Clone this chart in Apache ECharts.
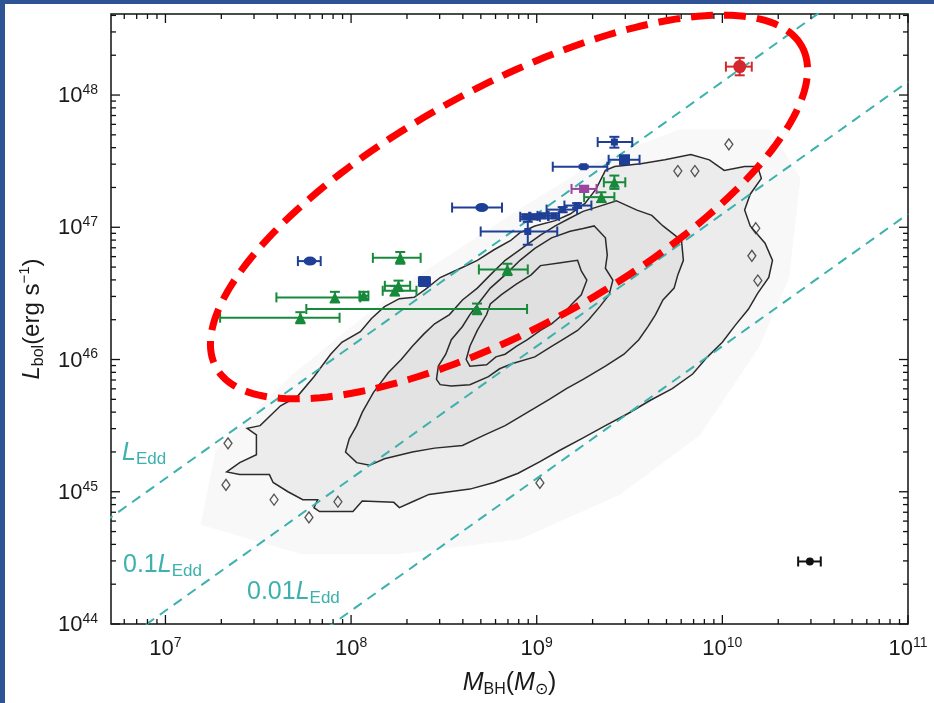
<!DOCTYPE html>
<html>
<head>
<meta charset="utf-8">
<title>Lbol vs MBH</title>
<script src="https://cdn.jsdelivr.net/npm/echarts@6/dist/echarts.min.js"></script>
<style>
  html, body { margin: 0; padding: 0; background: #fff; }
  #chart { width: 934px; height: 703px; }
</style>
</head>
<body>
<div id="chart"></div>
<script>
const FONT = '"Liberation Sans", Arial, Helvetica, sans-serif';
const TEAL = '#3cb1ad';
const FRAME = '#2e5495';

const xMin = 5.09e6, xMax = 1e11;
const yMin = 1e44, yMax = 4.1e48;

// rows: [M_BH, M_low, M_high, L_bol, L_low, L_high]
const blueSmall = [
  [2.62e9, 2.13e9, 3.27e9, 4.41e47, 4.00e47, 4.83e47],
  [1.79e9, 1.22e9, 2.40e9, 2.87e47, 2.80e47, 2.94e47],
  [8.95e8, 4.99e8, 1.29e9, 9.29e46, 7.38e46, 1.10e47],
  [8.69e8, 8.15e8, 9.25e8, 1.20e47, 1.15e47, 1.25e47],
  [9.71e8, 9.10e8, 1.04e9, 1.20e47, 1.15e47, 1.25e47],
  [1.08e9, 1.01e9, 1.15e9, 1.22e47, 1.17e47, 1.27e47],
  [1.24e9, 1.16e9, 1.32e9, 1.22e47, 1.17e47, 1.27e47],
  [1.38e9, 1.13e9, 1.65e9, 1.36e47, 1.30e47, 1.42e47],
  [1.65e9, 1.41e9, 1.97e9, 1.46e47, 1.40e47, 1.52e47]
];
const blueOval = [
  [5.06e8, 3.50e8, 6.50e8, 1.41e47, 1.41e47, 1.41e47],
  [6.01e7, 5.17e7, 6.86e7, 5.55e46, 5.55e46, 5.55e46]
];
const blueLarge = [
  [2.97e9, 2.44e9, 3.58e9, 3.24e47, 3.10e47, 3.39e47],
  [2.48e8, 2.32e8, 2.66e8, 3.89e46, 3.72e46, 4.07e46]
];
const greenTri = [
  [2.62e9, 2.30e9, 3.00e9, 2.19e47, 1.95e47, 2.46e47],
  [2.23e9, 1.80e9, 2.62e9, 1.69e47, 1.55e47, 1.84e47],
  [1.84e8, 1.31e8, 2.37e8, 5.87e46, 5.30e46, 6.50e46],
  [6.95e8, 4.88e8, 8.95e8, 4.80e46, 4.35e46, 5.30e46],
  [8.18e7, 3.96e7, 1.12e8, 2.95e46, 2.70e46, 3.25e46],
  [1.17e8, 1.11e8, 1.24e8, 3.04e46, 2.85e46, 3.25e46],
  [1.72e8, 1.48e8, 2.25e8, 3.31e46, 3.05e46, 3.60e46],
  [1.80e8, 1.52e8, 2.08e8, 3.61e46, 3.30e46, 3.95e46],
  [4.77e8, 5.74e7, 8.87e8, 2.41e46, 2.20e46, 2.65e46],
  [5.33e7, 1.97e7, 8.67e7, 2.07e46, 1.88e46, 2.28e46]
];
const magentaPt = [
  [1.80e9, 1.54e9, 2.10e9, 1.95e47, 1.85e47, 2.06e47]
];
const redPt = [
  [1.24e10, 1.045e10, 1.44e10, 1.64e48, 1.41e48, 1.91e48]
];
const blackPt = [
  [2.96e10, 2.56e10, 3.39e10, 2.97e44, 2.97e44, 2.97e44]
];

// Eddington-ratio lines, end points [M, L]
const eddLine = [[1e6, 1.26e44], [1e11, 1.26e49]];
const edd01Line = [[1e6, 1.26e43], [1e11, 1.26e48]];
const edd001Line = [[1e6, 1.26e42], [1e11, 1.26e47]];

// density contours, vertices as [log10 M, log10 L]
const haloLog = [
  [7.19, 44.75], [7.27, 45.31], [7.67, 45.87], [8.26, 46.54], [8.91, 47.14], [9.34, 47.51],
  [9.77, 47.74], [10.26, 47.74], [10.42, 47.37], [10.36, 46.62], [10.20, 46.10], [9.88, 45.43],
  [9.45, 44.98], [8.91, 44.64], [8.26, 44.53], [7.73, 44.53]
];
const contour1Log = [
  [7.33, 45.15], [7.40, 45.22], [7.49, 45.28], [7.49, 45.43], [7.44, 45.48], [7.51, 45.50],
  [7.62, 45.65], [7.71, 45.72], [7.80, 45.87], [7.89, 46.04], [7.95, 46.13], [8.05, 46.21],
  [8.11, 46.31], [8.18, 46.40], [8.26, 46.46], [8.34, 46.47], [8.40, 46.53], [8.48, 46.62],
  [8.59, 46.69], [8.68, 46.75], [8.77, 46.83], [8.86, 46.90], [8.91, 46.96], [8.99, 47.01],
  [9.10, 47.05], [9.18, 47.10], [9.26, 47.18], [9.32, 47.29], [9.37, 47.43], [9.42, 47.46],
  [9.56, 47.48], [9.69, 47.51], [9.83, 47.55], [9.93, 47.51], [10.01, 47.43], [10.12, 47.46],
  [10.19, 47.46], [10.21, 47.37], [10.15, 47.25], [10.12, 47.13], [10.15, 47.01], [10.23, 46.88],
  [10.27, 46.75], [10.25, 46.62], [10.19, 46.50], [10.14, 46.38], [10.07, 46.26], [10.00, 46.13],
  [9.92, 46.02], [9.84, 45.89], [9.73, 45.78], [9.61, 45.69], [9.49, 45.59], [9.37, 45.50],
  [9.24, 45.40], [9.12, 45.31], [9.02, 45.23], [8.90, 45.14], [8.77, 45.07], [8.64, 45.02],
  [8.53, 45.00], [8.42, 44.98], [8.34, 44.93], [8.26, 44.88], [8.23, 44.92], [8.06, 44.93],
  [8.01, 44.85], [7.83, 44.85], [7.80, 44.88], [7.82, 44.94], [7.74, 44.94], [7.66, 45.00],
  [7.58, 45.07], [7.56, 45.13], [7.40, 45.13]
];
const contour2Log = [
  [9.43, 47.20], [9.54, 47.13], [9.62, 47.09], [9.68, 47.01], [9.78, 46.90], [9.79, 46.75],
  [9.76, 46.64], [9.74, 46.54], [9.68, 46.45], [9.64, 46.34], [9.60, 46.25], [9.55, 46.15],
  [9.47, 46.04], [9.37, 45.95], [9.25, 45.85], [9.16, 45.78], [9.07, 45.70], [8.95, 45.60],
  [8.83, 45.50], [8.72, 45.43], [8.60, 45.35], [8.45, 45.33], [8.33, 45.30], [8.18, 45.25],
  [8.10, 45.20], [8.03, 45.22], [7.97, 45.30], [7.99, 45.40], [8.03, 45.50], [8.06, 45.60],
  [8.12, 45.75], [8.20, 45.90], [8.27, 46.00], [8.33, 46.10], [8.39, 46.19], [8.45, 46.27],
  [8.53, 46.34], [8.60, 46.45], [8.68, 46.54], [8.75, 46.64], [8.83, 46.75], [8.95, 46.87],
  [9.02, 46.94], [9.10, 47.01], [9.18, 47.07], [9.25, 47.12], [9.34, 47.16]
];
const contour3Log = [
  [9.31, 47.01], [9.37, 46.92], [9.38, 46.79], [9.37, 46.69], [9.41, 46.60], [9.39, 46.49],
  [9.34, 46.40], [9.28, 46.30], [9.22, 46.22], [9.14, 46.15], [9.08, 46.10], [8.99, 46.02],
  [8.87, 45.97], [8.80, 45.93], [8.74, 45.87], [8.64, 45.81], [8.54, 45.80], [8.48, 45.81],
  [8.46, 45.85], [8.47, 45.95], [8.51, 46.04], [8.54, 46.15], [8.60, 46.25], [8.64, 46.34],
  [8.70, 46.45], [8.75, 46.54], [8.83, 46.64], [8.91, 46.75], [8.99, 46.84], [9.08, 46.92],
  [9.18, 46.97], [9.25, 46.99]
];
const contour4Log = [
  [9.22, 46.75], [9.24, 46.67], [9.27, 46.60], [9.24, 46.49], [9.19, 46.42], [9.14, 46.34],
  [9.08, 46.27], [9.02, 46.22], [8.95, 46.15], [8.89, 46.10], [8.83, 46.04], [8.78, 46.02],
  [8.73, 45.96], [8.64, 45.95], [8.62, 46.00], [8.64, 46.10], [8.68, 46.22], [8.73, 46.34],
  [8.75, 46.42], [8.81, 46.49], [8.89, 46.57], [8.97, 46.64], [9.02, 46.71], [9.12, 46.73]
];
// small isolated contour loops outside the main cloud, [log10 M, log10 L]
const islandLog = [
  [10.035, 47.627], [9.760, 47.425], [9.852, 47.425], [10.180, 46.993], [10.159, 46.784],
  [10.191, 46.597], [7.929, 44.925], [7.585, 44.940], [7.773, 44.806], [7.337, 45.366],
  [7.326, 45.052], [9.017, 45.067]
];

const chart = echarts.init(document.getElementById('chart'));

function powLabel(v) {
  const e = Math.log10(v);
  const r = Math.round(e);
  if (Math.abs(e - r) > 1e-6) return '';
  return '{b|10}{s|' + r + '}';
}

const labelRich = {
  b: { fontFamily: FONT, fontSize: 22, lineHeight: 24, color: '#1a1a1a', verticalAlign: 'bottom' },
  s: { fontFamily: FONT, fontSize: 14, lineHeight: 14, color: '#1a1a1a', verticalAlign: 'top' }
};

function polygonSeries(pts, fill, stroke, z) {
  const data = pts.map(p => [Math.pow(10, p[0]), Math.pow(10, p[1])]);
  return {
    type: 'custom', silent: true, z: z, data: data,
    renderItem(params, api) {
      if (params.dataIndex !== 0) return null;
      const points = data.map(d => api.coord(d));
      return {
        type: 'polygon', shape: { points: points },
        style: { fill: fill, stroke: stroke, lineWidth: stroke ? 1.5 : 0 }
      };
    }
  };
}

function errorSeries(rows, color) {
  return {
    type: 'custom', silent: true, z: 6, data: rows,
    encode: { x: 0, y: 3 },
    renderItem(params, api) {
      const m = api.value(0), mlo = api.value(1), mhi = api.value(2);
      const l = api.value(3), llo = api.value(4), lhi = api.value(5);
      const a = api.coord([mlo, l]), b = api.coord([mhi, l]);
      const t = api.coord([m, lhi]), d = api.coord([m, llo]);
      const cap = 5;
      const style = { stroke: color, lineWidth: 2 };
      const kids = [
        { type: 'line', shape: { x1: a[0], y1: a[1], x2: b[0], y2: b[1] }, style: style },
        { type: 'line', shape: { x1: a[0], y1: a[1] - cap, x2: a[0], y2: a[1] + cap }, style: style },
        { type: 'line', shape: { x1: b[0], y1: b[1] - cap, x2: b[0], y2: b[1] + cap }, style: style }
      ];
      if (Math.abs(d[1] - t[1]) > 2) {
        kids.push(
          { type: 'line', shape: { x1: t[0], y1: t[1], x2: d[0], y2: d[1] }, style: style },
          { type: 'line', shape: { x1: t[0] - cap, y1: t[1], x2: t[0] + cap, y2: t[1] }, style: style },
          { type: 'line', shape: { x1: d[0] - cap, y1: d[1], x2: d[0] + cap, y2: d[1] }, style: style }
        );
      }
      return { type: 'group', children: kids };
    }
  };
}

function markerSeries(rows, symbol, size, color) {
  return {
    type: 'scatter', silent: true, z: 7, symbol: symbol, symbolSize: size,
    itemStyle: { color: color, opacity: 1 },
    data: rows.map(r => [r[0], r[3]])
  };
}

function eddSeries(pts) {
  return {
    type: 'line', silent: true, z: 4, data: pts, symbol: 'none', clip: true,
    lineStyle: { color: TEAL, width: 2, type: [10, 7] }
  };
}

// tick positions (decades plus 2..9 minors)
const xTicks = [], yTicks = [];
for (let e = 6; e <= 11; e++) {
  for (let k = 1; k <= 9; k++) {
    const v = k * Math.pow(10, e);
    if (v >= xMin && v <= xMax * 1.0001) xTicks.push({ v: v, major: k === 1 });
  }
}
for (let e = 44; e <= 48; e++) {
  for (let k = 1; k <= 9; k++) {
    const v = k * Math.pow(10, e);
    if (v >= yMin && v <= yMax) yTicks.push({ v: v, major: k === 1 });
  }
}

const tickSeries = {
  type: 'custom', silent: true, z: 9, data: [[1e9, 1e46]],
  renderItem(params, api) {
    const cs = params.coordSys;
    const top = cs.y, bottom = cs.y + cs.height, left = cs.x, right = cs.x + cs.width;
    const style = { stroke: '#111', lineWidth: 1.3 };
    const kids = [];
    xTicks.forEach(t => {
      const x = api.coord([t.v, 1e46])[0];
      const len = t.major ? 9 : 5;
      kids.push({ type: 'line', shape: { x1: x, y1: bottom, x2: x, y2: bottom - len }, style: style });
      kids.push({ type: 'line', shape: { x1: x, y1: top, x2: x, y2: top + len }, style: style });
    });
    yTicks.forEach(t => {
      const y = api.coord([1e9, t.v])[1];
      const len = t.major ? 9 : 5;
      kids.push({ type: 'line', shape: { x1: left, y1: y, x2: left + len, y2: y }, style: style });
      kids.push({ type: 'line', shape: { x1: right, y1: y, x2: right - len, y2: y }, style: style });
    });
    return { type: 'group', children: kids };
  }
};

// hand-drawn red ellipse annotation (pixel space)
const ring = [];
const rot = 0.501, ecx = 509, ecy = 207, ea = 334, eb = 120;
for (let i = 0; i < 200; i++) {
  const t = i / 200 * Math.PI * 2;
  const ex = ea * Math.cos(t), ey = eb * Math.sin(t);
  ring.push([ecx + ex * Math.cos(rot) - ey * Math.sin(rot), ecy - (ex * Math.sin(rot) + ey * Math.cos(rot))]);
}

function eddRich() {
  return {
    n: { fontFamily: FONT, fontSize: 25, lineHeight: 30, fill: TEAL, verticalAlign: 'middle' },
    i: { fontFamily: FONT, fontSize: 25, lineHeight: 30, fontStyle: 'italic', fill: TEAL, verticalAlign: 'middle' },
    sub: { fontFamily: FONT, fontSize: 17, lineHeight: 13, fill: TEAL, verticalAlign: 'bottom' }
  };
}

const option = {
  animation: false,
  backgroundColor: '#fff',
  grid: {
    left: 111, top: 14, width: 797, height: 617,
    show: true, borderColor: '#111', borderWidth: 1.5, backgroundColor: 'rgba(0,0,0,0)'
  },
  xAxis: {
    type: 'log', logBase: 10, min: xMin, max: xMax,
    axisLine: { show: false }, axisTick: { show: false }, splitLine: { show: false },
    axisLabel: { formatter: powLabel, margin: 12, rich: labelRich, showMaxLabel: true, showMinLabel: true },
    name: '{i|M}{sub|BH}{p|(}{i|M}{sub|⊙}{p|)}',
    nameLocation: 'middle', nameGap: 44,
    nameTextStyle: {
      rich: {
        i: { fontFamily: FONT, fontSize: 25, fontStyle: 'italic', color: '#1a1a1a', lineHeight: 30, verticalAlign: 'middle' },
        p: { fontFamily: FONT, fontSize: 25, color: '#1a1a1a', lineHeight: 30, verticalAlign: 'middle' },
        sub: { fontFamily: FONT, fontSize: 16, color: '#1a1a1a', lineHeight: 12, verticalAlign: 'bottom' }
      }
    }
  },
  yAxis: {
    type: 'log', logBase: 10, min: yMin, max: yMax,
    axisLine: { show: false }, axisTick: { show: false }, splitLine: { show: false },
    axisLabel: { formatter: powLabel, margin: 13, rich: labelRich, showMinLabel: true },
    name: '{i|L}{sub|bol}{p|(erg s}{sup|−1}{p|)}',
    nameLocation: 'middle', nameGap: 62, nameRotate: 90,
    nameTextStyle: {
      rich: {
        i: { fontFamily: FONT, fontSize: 24, fontStyle: 'italic', color: '#1a1a1a', lineHeight: 30, verticalAlign: 'middle' },
        p: { fontFamily: FONT, fontSize: 24, color: '#1a1a1a', lineHeight: 30, verticalAlign: 'middle' },
        sub: { fontFamily: FONT, fontSize: 16, color: '#1a1a1a', lineHeight: 12, verticalAlign: 'bottom' },
        sup: { fontFamily: FONT, fontSize: 15, color: '#1a1a1a', lineHeight: 12, verticalAlign: 'top' }
      }
    }
  },
  graphic: [
    { type: 'polygon', z: 50, silent: true, shape: { points: ring },
      style: { fill: null, stroke: '#ff0000', lineWidth: 7, lineDash: [22, 11] } },
    { type: 'text', x: 122, y: 438, z: 40, silent: true,
      style: { text: '{i|L}{sub|Edd}', rich: eddRich(), fill: TEAL } },
    { type: 'text', x: 123, y: 550, z: 40, silent: true,
      style: { text: '{n|0.1}{i|L}{sub|Edd}', rich: eddRich(), fill: TEAL } },
    { type: 'text', x: 247, y: 577, z: 40, silent: true,
      style: { text: '{n|0.01}{i|L}{sub|Edd}', rich: eddRich(), fill: TEAL } },
    { type: 'rect', z: 60, silent: true, shape: { x: 0, y: 0, width: 5, height: 703 }, style: { fill: FRAME } },
    { type: 'rect', z: 60, silent: true, shape: { x: 0, y: 0, width: 934, height: 4 }, style: { fill: FRAME } }
  ],
  series: [
    polygonSeries(haloLog, '#f8f8f8', null, 1),
    polygonSeries(contour1Log, '#ececec', '#2b2b2b', 2),
    polygonSeries(contour2Log, '#e3e3e3', '#2b2b2b', 2),
    polygonSeries(contour3Log, '#e1e1e1', '#2b2b2b', 2),
    polygonSeries(contour4Log, '#e0e0e0', '#2b2b2b', 2),
    {
      type: 'scatter', silent: true, z: 3, symbol: 'diamond', symbolSize: [8, 11],
      itemStyle: { color: 'rgba(0,0,0,0)', borderColor: '#2b2b2b', borderWidth: 1.3 },
      data: islandLog.map(p => [Math.pow(10, p[0]), Math.pow(10, p[1])])
    },
    eddSeries(eddLine),
    eddSeries(edd01Line),
    eddSeries(edd001Line),
    errorSeries(blueSmall, '#1f3f96'),
    errorSeries(blueOval, '#1f3f96'),
    errorSeries(blueLarge, '#1f3f96'),
    errorSeries(greenTri, '#17893b'),
    errorSeries(magentaPt, '#9c44a0'),
    errorSeries(redPt, '#d2282e'),
    errorSeries(blackPt, '#111111'),
    markerSeries(blueSmall, 'rect', 7, '#1f3f96'),
    markerSeries(blueOval, 'circle', [13, 9], '#1f3f96'),
    markerSeries(blueLarge, 'rect', 11, '#1f3f96'),
    markerSeries(greenTri, 'triangle', 11, '#17893b'),
    markerSeries(magentaPt, 'rect', [10, 8], '#9c44a0'),
    markerSeries(redPt, 'circle', 13, '#d2282e'),
    markerSeries(blackPt, 'circle', 8, '#111111'),
    tickSeries
  ]
};

chart.setOption(option);
</script>
</body>
</html>
